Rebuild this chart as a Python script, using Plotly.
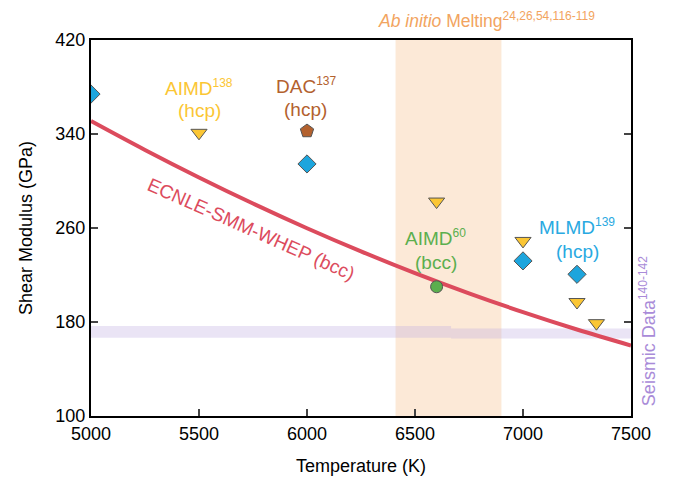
import plotly.graph_objects as go

# ---- data ----
curve_T = [5000, 5250, 5500, 5750, 6000, 6250, 6500, 6750, 7000, 7250, 7500]
curve_G = [351, 326.4, 303.0, 280.8, 259.8, 240.1, 221.6, 204.4, 188.4, 173.6, 160]

mlmd_T = [5000, 6000, 7000, 7250]
mlmd_G = [374, 314.5, 232, 220.6]

aimd_hcp_T = [5500, 6600, 7000, 7250, 7340]
aimd_hcp_G = [341, 282.5, 249, 197, 179]

dac_T = [6000]
dac_G = [342.5]

aimd_bcc_T = [6600]
aimd_bcc_G = [210]

melt_range = [6410, 6900]
seismic_bands = [(5000, 6667, 166.6, 176.6), (6667, 7500, 166.0, 174.5)]

x_ticks = [5000, 5500, 6000, 6500, 7000, 7500]
y_ticks = [100, 180, 260, 340, 420]

FONT = "Liberation Sans, Arial, sans-serif"
RED = "#DC4B5D"
BLUE = "#1DA5DD"
YEL = "#FBC634"
BROWN = "#B3612E"
GREEN = "#5BAF4E"
CYAN = "#29A9E1"
PURPLE = "#A98BD8"
ORANGE = "#F2A460"

fig = go.Figure()

# melting band
fig.add_vrect(x0=melt_range[0], x1=melt_range[1], fillcolor="rgba(246,196,150,0.38)",
              line_width=0, layer="below")
# seismic band
for x0, x1, y0, y1 in seismic_bands:
    fig.add_shape(type="rect", x0=x0, x1=x1, y0=y0, y1=y1, xref="x", yref="y",
                  fillcolor="rgba(190,170,225,0.32)", line_width=0, layer="below")

fig.add_trace(go.Scatter(x=curve_T, y=curve_G, mode="lines",
                         line=dict(color=RED, width=4, shape="spline"),
                         hoverinfo="skip", showlegend=False))

mk_line = dict(color="#555555", width=1)
fig.add_trace(go.Scatter(x=mlmd_T, y=mlmd_G, mode="markers",
                         marker=dict(symbol="diamond", size=14, color=BLUE, line=mk_line),
                         showlegend=False))
fig.add_trace(go.Scatter(x=aimd_hcp_T, y=aimd_hcp_G, mode="markers",
                         marker=dict(symbol="triangle-down", size=14, color=YEL, line=mk_line),
                         showlegend=False))
fig.add_trace(go.Scatter(x=dac_T, y=dac_G, mode="markers",
                         marker=dict(symbol="pentagon", size=14, color=BROWN, line=mk_line),
                         showlegend=False))
fig.add_trace(go.Scatter(x=aimd_bcc_T, y=aimd_bcc_G, mode="markers",
                         marker=dict(symbol="circle", size=12, color=GREEN, line=mk_line),
                         showlegend=False))

def ann(text, x, y, color, size=19, **kw):
    d = dict(text=text, x=x, y=y, xref="x", yref="y", showarrow=False,
             xanchor="center", yanchor="middle",
             font=dict(family=FONT, size=size, color=color))
    d.update(kw)
    fig.add_annotation(**d)

def sup(t, px=12):
    return '<sup><span style="font-size:%dpx">%s</span></sup>' % (px, t)

ann("AIMD" + sup("138"), 5500, 380, YEL)
ann("(hcp)", 5500, 360.4, YEL)
ann("DAC" + sup("137"), 5995, 381.7, BROWN)
ann("(hcp)", 5995, 361, BROWN)
ann("AIMD" + sup("60"), 6597, 251.5, GREEN)
ann("(bcc)", 6597, 231, GREEN)
ann("MLMD" + sup("139"), 7252, 261, CYAN)
ann("(hcp)", 7252, 240.4, CYAN)
ann("ECNLE-SMM-WHEP (bcc)", 5745, 259, RED, textangle=24)
ann("<i>Ab initio</i> Melting" + sup("24,26,54,116-119", 12), 6830, 1.053, ORANGE,
    yref="paper", size=17.5)
ann("Seismic Data" + sup("140-142", 12.5), 1.031, 172, PURPLE, xref="paper",
    textangle=-90, size=18)

fig.update_layout(
    width=665, height=470,
    margin=dict(l=83, r=42, t=32, b=62, autoexpand=False),
    paper_bgcolor="white", plot_bgcolor="white",
    font=dict(family=FONT, size=18, color="black"),
)
fig.update_xaxes(range=[5000, 7500], tickvals=x_ticks, ticks="inside", ticklen=7, tickwidth=2,
                 showline=True, linewidth=2, linecolor="black", mirror=True,
                 showgrid=False, zeroline=False, automargin=False,
                 title=dict(text="Temperature (K)", font=dict(size=18), standoff=17),
                 tickfont=dict(size=18))
fig.update_yaxes(range=[100, 420], tickvals=y_ticks, ticks="inside", ticklen=7, tickwidth=2,
                 showline=True, linewidth=2, linecolor="black", mirror="ticks",
                 showgrid=False, zeroline=False, automargin=False,
                 title=dict(text="Shear Modulus (GPa)", font=dict(size=18), standoff=18),
                 tickfont=dict(size=18))

fig.write_html("out.html")
